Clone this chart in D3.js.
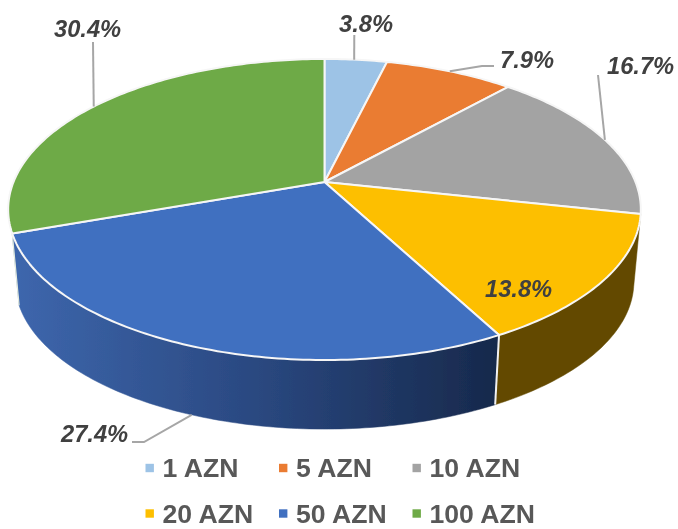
<!DOCTYPE html>
<html>
<head>
<meta charset="utf-8">
<script src="https://cdn.jsdelivr.net/npm/d3@7"></script>
<style>
html,body{margin:0;padding:0;background:#fff}
svg{display:block}
text{font-family:"Liberation Sans",Arial,sans-serif;font-weight:bold}
</style>
</head>
<body>
<svg id="chart" width="678" height="529"></svg>
<script>
const categories = ["1 AZN","5 AZN","10 AZN","20 AZN","50 AZN","100 AZN"];
const shares = [3.8,7.9,16.7,13.8,27.4,30.4];
const colors = ["#9DC3E6","#EA7B30","#A3A3A3","#FDBF00","#4170C0","#6EAA46"];
const sideColors = [null,null,null,"#634A00",null,null];

// perspective parameters of the tilted disc
const cx = 324.5, cy = 182, a = 311, b = 145.5, k = 0.1827;
const depthScale = 0.978, depthShift = 77;

const top3d = t => {
  const u = Math.sin(t), v = -Math.cos(t), w = 1 - k * v;
  return [cx + a * u / w, cy + b * v / w];
};
const bottom3d = t => {
  const p = top3d(t);
  return [cx + (p[0] - cx) * depthScale, p[1] * depthScale + depthShift];
};
const samples = (t0, t1) => {
  const n = Math.max(2, Math.ceil((t1 - t0) * 60));
  return d3.range(n + 1).map(i => t0 + (t1 - t0) * i / n);
};

const svg = d3.select("#chart");
const defs = svg.append("defs");
const line = d3.line();
const closed = d3.line().curve(d3.curveLinearClosed);
const arcs = d3.pie().sort(null).value(d => d)(shares);

defs.append("filter").attr("id","soft").attr("x","-5%").attr("y","-5%").attr("width","110%").attr("height","110%")
  .append("feGaussianBlur").attr("stdDeviation",0.45);
const root = svg.append("g").attr("filter","url(#soft)");
root.append("rect").attr("width",678).attr("height",529).attr("fill","#fff");

const grad = defs.append("linearGradient")
  .attr("id","blueSide").attr("gradientUnits","userSpaceOnUse")
  .attr("x1",19).attr("x2",495).attr("y1",0).attr("y2",0);
[[0,"#3D66AC"],[0.5,"#2A4880"],[1,"#17294C"]].forEach(s =>
  grad.append("stop").attr("offset",s[0]).attr("stop-color",s[1]));

// wall: only the two slices that reach the viewer's side
[3,4].forEach(i => {
  const d = arcs[i];
  const ts = samples(d.startAngle, d.endAngle);
  root.append("path")
    .attr("d", closed(ts.map(top3d).concat(ts.slice().reverse().map(bottom3d))))
    .attr("fill", i === 4 ? "url(#blueSide)" : sideColors[i])
    .attr("stroke", i === 4 ? "url(#blueSide)" : sideColors[i])
    .attr("stroke-width", 0.5);
});
// wall separator between the two slices
const sep = arcs[4].startAngle;
root.append("path").attr("d", line([top3d(sep), bottom3d(sep)]))
  .attr("stroke","#F2F2F2").attr("stroke-width",2).attr("fill","none");
// faint light edge at the left end of the wall
const leftEnd = arcs[4].endAngle;
root.append("path").attr("d", line([top3d(leftEnd), bottom3d(leftEnd)]))
  .attr("stroke","#E4EBDD").attr("stroke-width",1.2).attr("fill","none");

// top face
arcs.forEach((d,i) => {
  const pts = [[cx,cy]].concat(samples(d.startAngle,d.endAngle).map(top3d));
  root.append("path").attr("d", closed(pts))
    .attr("fill", colors[i])
    .attr("stroke","#F6F6F6").attr("stroke-width",2).attr("stroke-linejoin","round");
});

// leader lines: from a point along the slice's rim out to a bend near the label
const leaders = [
  {slice:0, along:0.473, bends:[[354.3,35]]},
  {slice:1, along:0.5,   bends:[[482,66],[494,66]]},
  {slice:2, along:0.5,   bends:[[598,75]]},
  {slice:4, along:0.5,   bends:[[144,442],[132,442]]},
  {slice:5, along:0.497, bends:[[93,42]]}
];
leaders.forEach(l => {
  const d = arcs[l.slice], t = d.startAngle + (d.endAngle - d.startAngle) * l.along;
  const start = l.slice === 4 ? bottom3d(t) : top3d(t);
  root.append("path").attr("d", line([start].concat(l.bends)))
    .attr("fill","none").attr("stroke","#A6A6A6").attr("stroke-width",2);
});

// value labels
const labelPos = [[339,32],[500,68],[607,74],[485,297],[61,442],[54,37]];
root.selectAll("text.val").data(shares).join("text")
  .attr("class","val")
  .attr("x",(d,i)=>labelPos[i][0]).attr("y",(d,i)=>labelPos[i][1])
  .attr("font-size",23.7).attr("font-style","italic").attr("fill","#404040")
  .text(d => d3.format(".1f")(d) + "%");

// legend
const legendX = d3.scaleOrdinal().domain([0,1,2]).range([145.5,279,412.5]);
const legendY = d3.scaleOrdinal().domain([0,1]).range([468,513.5]);
const legend = root.selectAll("g.leg").data(categories).join("g")
  .attr("class","leg")
  .attr("transform",(d,i)=>`translate(${legendX(i%3)},${legendY(Math.floor(i/3))})`);
legend.append("rect").attr("x",0).attr("y",-4.2).attr("width",8.4).attr("height",8.4)
  .attr("fill",(d,i)=>colors[i]);
legend.append("text").attr("x",17).attr("y",9).attr("font-size",26.6).attr("fill","#595959")
  .text(d=>d);
</script>
</body>
</html>
